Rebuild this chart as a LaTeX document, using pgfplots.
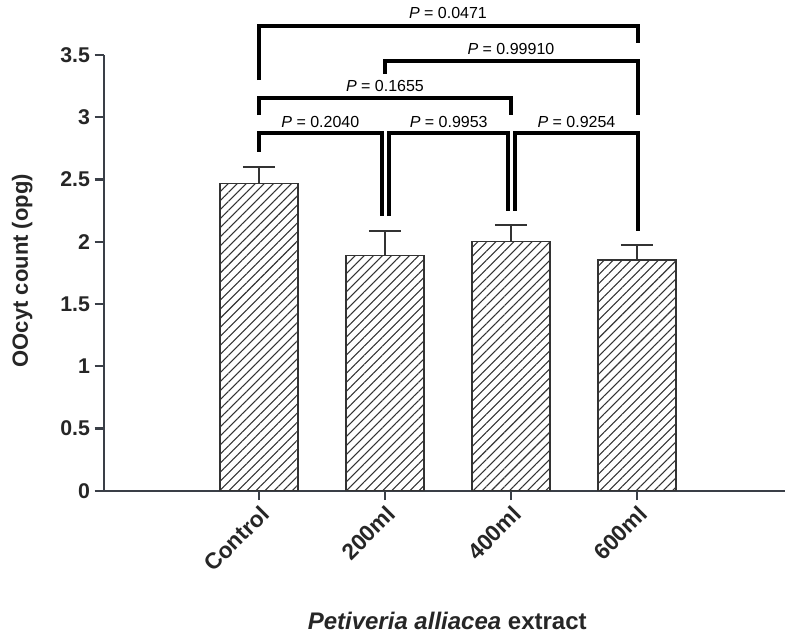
\documentclass[border=0pt]{standalone}
\usepackage{pgfplots}
\pgfplotsset{compat=1.18}
\usepackage{pgfplotstable}
\usepackage{fontspec}
\setmainfont{Liberation Sans}
\usetikzlibrary{patterns.meta}
\definecolor{axiscol}{HTML}{3A3F47}
\definecolor{barcol}{HTML}{333333}

\pgfplotstableread{
x y e
0 2.469 0.134
1 1.890 0.198
2 2.002 0.134
3 1.853 0.117
}\bardata

\begin{document}
\begin{tikzpicture}
\useasboundingbox (-78pt,-110.5pt) rectangle (510.75pt,368.05pt);
\begin{axis}[
  scale only axis, width=510.75pt, height=326.8pt,
  xmin=-1.230, xmax=4.175, ymin=0, ymax=3.5,
  axis x line*=bottom, axis y line*=left,
  axis line style={line width=1.8pt, draw=axiscol},
  tick align=outside, major tick length=7pt,
  tick style={line width=1.8pt, draw=axiscol},
  xtick={0,1,2,3}, xticklabels={Control,200ml,400ml,600ml},
  ytick={0,0.5,1,1.5,2,2.5,3,3.5},
  /pgf/number format/assume math mode=true,
  yticklabel style={font=\bfseries\fontsize{16}{16}\selectfont, text=black!85},
  xticklabel style={font=\bfseries\fontsize{17}{17}\selectfont, text=black!85, rotate=45, anchor=north east, inner sep=2pt},
  ylabel={OOcyt count (opg)},
  ylabel style={font=\bfseries\fontsize{16.5}{16.5}\selectfont, text=black!85, at={(axis description cs:-0.1116,0.505)}, anchor=base},
  xlabel={\textit{Petiveria alliacea} extract},
  xlabel style={font=\bfseries\fontsize{18}{18}\selectfont, text=black!85, at={(axis description cs:0.504,-0.3174)}, anchor=base},
  clip=false,
]
\addplot[ybar, bar width=58.5pt, draw=barcol, line width=1.1pt,
  pattern={Lines[angle=45,distance=4.8pt,line width=0.8pt]}, pattern color=barcol,
  error bars/.cd, y dir=plus, y explicit,
  error bar style={line width=1.5pt, draw=barcol},
  error mark options={rotate=90, mark size=12pt, line width=1.5pt, draw=barcol}]
  table[x=x, y=y, y error=e] {\bardata};

% brackets
\addplot[black, line width=3pt, line join=miter, forget plot] coordinates {(0,2.723) (0,2.871) (0.974,2.871) (0.974,2.205)};
\addplot[black, line width=3pt, line join=miter, forget plot] coordinates {(1.034,2.205) (1.034,2.871) (1.979,2.871) (1.979,2.249)};
\addplot[black, line width=3pt, line join=miter, forget plot] coordinates {(2.032,2.249) (2.032,2.871) (3.005,2.871) (3.005,2.088)};
\addplot[black, line width=3pt, line join=miter, forget plot] coordinates {(0,3.018) (0,3.157) (2.0,3.157) (2.0,3.018)};
\addplot[black, line width=3pt, line join=miter, forget plot] coordinates {(1.0,3.347) (1.0,3.449) (3.005,3.449) (3.005,3.018)};
\addplot[black, line width=3pt, line join=miter, forget plot] coordinates {(0,3.299) (0,3.735) (3.005,3.735) (3.005,3.594)};

\node[anchor=base, font=\fontsize{12}{12}\selectfont] at (axis cs:0.487,2.92) {\textit{P} = 0.2040};
\node[anchor=base, font=\fontsize{12}{12}\selectfont] at (axis cs:1.506,2.92) {\textit{P} = 0.9953};
\node[anchor=base, font=\fontsize{12}{12}\selectfont] at (axis cs:2.52,2.92) {\textit{P} = 0.9254};
\node[anchor=base, font=\fontsize{12}{12}\selectfont] at (axis cs:1.0,3.21) {\textit{P} = 0.1655};
\node[anchor=base, font=\fontsize{12}{12}\selectfont] at (axis cs:2.0,3.505) {\textit{P} = 0.99910};
\node[anchor=base, font=\fontsize{12}{12}\selectfont] at (axis cs:1.5,3.794) {\textit{P} = 0.0471};
\end{axis}
\end{tikzpicture}
\end{document}
